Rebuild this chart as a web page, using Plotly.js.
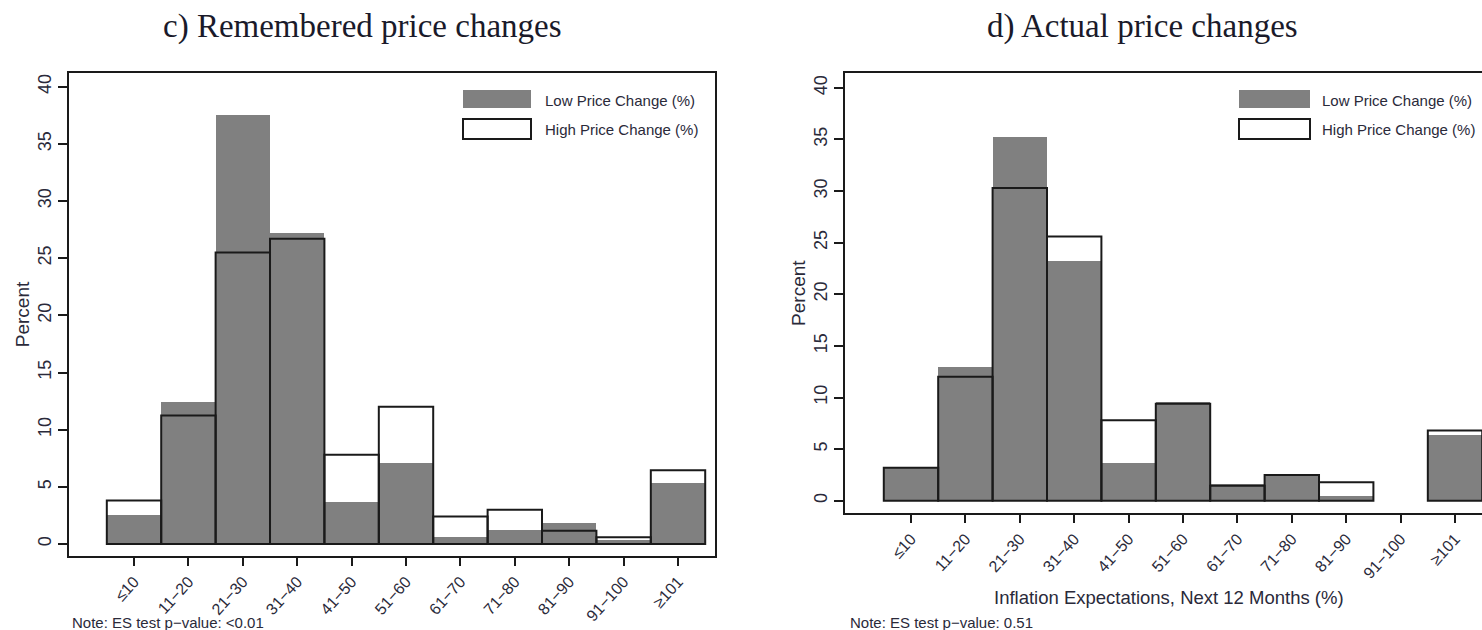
<!DOCTYPE html>
<html>
<head>
<meta charset="utf-8">
<script src="https://cdn.plot.ly/plotly-3.0.1.min.js"></script>
<style>
  html, body { margin: 0; padding: 0; background: #ffffff; }
  #chart { width: 1482px; height: 630px; }
</style>
</head>
<body>
<div id="chart"></div>
<script>
// Inflation-expectation bins (percent, next 12 months)
const categories = ['≤10', '11−20', '21−30', '31−40', '41−50', '51−60', '61−70', '71−80', '81−90', '91−100', '≥101'];

// Panel c) Remembered price changes: share of respondents per bin (%)
const rememberedLow  = [2.5, 12.4, 37.5, 27.2, 3.7, 7.1, 0.6, 1.25, 1.85, 0.35, 5.3];
const rememberedHigh = [3.8, 11.25, 25.5, 26.7, 7.8, 12.0, 2.4, 3.0, 1.15, 0.6, 6.45];

// Panel d) Actual price changes: share of respondents per bin (%)
const actualLow  = [3.2, 13.0, 35.2, 23.2, 3.7, 9.6, 1.65, 2.55, 0.5, 0, 6.4];
const actualHigh = [3.2, 12.0, 30.3, 25.6, 7.8, 9.4, 1.45, 2.5, 1.8, 0, 6.8];

const panelTitles = ['c) Remembered price changes', 'd) Actual price changes'];
const seriesNames = ['Low Price Change (%)', 'High Price Change (%)'];
const notes = ['Note: ES test p−value: <0.01', 'Note: ES test p−value: 0.51'];
const xTitle = 'Inflation Expectations, Next 12 Months (%)';
const yTitle = 'Percent';
const yTicks = [0, 5, 10, 15, 20, 25, 30, 35, 40];

const W = 1482, H = 630;
const px = x => x / W;          // pixel -> paper x
const py = y => 1 - y / H;      // pixel -> paper y

const GRAY = '#808080';
const INK = '#1a1a1a';
const TEXT = '#2a2a3a';
const SANS = 'Liberation Sans, Arial, sans-serif';
const SERIF = 'Liberation Serif, Times New Roman, serif';

// Empty bins are left out rather than drawn as a flat outline
const nonEmpty = vals => vals.map(v => (v === 0 ? null : v));

function lowTrace(vals, xa, ya) {
  return {
    type: 'bar', x: categories, y: nonEmpty(vals), xaxis: xa, yaxis: ya,
    name: seriesNames[0], showlegend: false,
    marker: { color: GRAY, line: { width: 0 } },
    width: 1, hoverinfo: 'x+y'
  };
}
function highTrace(vals, xa, ya) {
  return {
    type: 'bar', x: categories, y: nonEmpty(vals), xaxis: xa, yaxis: ya,
    name: seriesNames[1], showlegend: false,
    marker: { color: 'rgba(0,0,0,0)', line: { width: 2, color: INK } },
    width: 1, hoverinfo: 'x+y'
  };
}

const data = [
  lowTrace(rememberedLow, 'x', 'y'),
  highTrace(rememberedHigh, 'x', 'y'),
  lowTrace(actualLow, 'x2', 'y2'),
  highTrace(actualHigh, 'x2', 'y2')
];

function xAxis(domain, range, mirror) {
  return {
    domain: domain, type: 'category', range: range,
    showline: true, linecolor: INK, linewidth: 2, mirror: mirror,
    ticks: 'outside', ticklen: 8, tickwidth: 2, tickcolor: INK,
    tickangle: -48, tickfont: { family: SANS, size: 16, color: TEXT },
    showgrid: false, zeroline: false, fixedrange: true
  };
}
function yAxis(domain, range, anchor, mirror) {
  return {
    domain: domain, range: range, anchor: anchor,
    tickvals: yTicks, ticktext: yTicks.map(String),
    showline: true, linecolor: INK, linewidth: 2, mirror: mirror,
    ticks: 'outside', ticklen: 9, tickwidth: 2, tickcolor: INK,
    tickangle: -90, tickfont: { family: SANS, size: 18, color: TEXT },
    title: { text: yTitle, font: { family: SANS, size: 19, color: TEXT }, standoff: 0 },
    showgrid: false, zeroline: false, fixedrange: true
  };
}

// Legend boxes drawn as shapes, one set per panel
function legendShapes(x0, x1) {
  return [
    { type: 'rect', xref: 'paper', yref: 'paper', x0: px(x0), x1: px(x1), y0: py(108), y1: py(90),
      fillcolor: GRAY, line: { width: 0 } },
    { type: 'rect', xref: 'paper', yref: 'paper', x0: px(x0), x1: px(x1), y0: py(139), y1: py(119),
      fillcolor: '#ffffff', line: { width: 2, color: INK } }
  ];
}
function legendLabels(xText) {
  return [
    { xref: 'paper', yref: 'paper', x: px(xText), y: py(101), xanchor: 'left', yanchor: 'middle',
      text: seriesNames[0], showarrow: false, font: { family: SANS, size: 15, color: TEXT } },
    { xref: 'paper', yref: 'paper', x: px(xText), y: py(130), xanchor: 'left', yanchor: 'middle',
      text: seriesNames[1], showarrow: false, font: { family: SANS, size: 15, color: TEXT } }
  ];
}

const layout = {
  width: W, height: H,
  margin: { l: 0, r: 0, t: 0, b: 0, pad: 0 },
  paper_bgcolor: '#ffffff', plot_bgcolor: '#ffffff',
  barmode: 'overlay', bargap: 0,
  showlegend: false,
  xaxis: xAxis([px(69), px(715)], [-1.195, 10.68], true),
  yaxis: yAxis([py(556), py(73)], [-1.05, 41.2], 'x', true),
  xaxis2: Object.assign(xAxis([px(845), 1], [-1.213, 10.496], true), { anchor: 'y2' }),
  yaxis2: yAxis([py(513.3), py(73)], [-1.22, 41.44], 'x2', false),
  shapes: [].concat(legendShapes(463, 531), legendShapes(1239, 1310)),
  annotations: [
    { xref: 'paper', yref: 'paper', x: px(362), y: py(27), xanchor: 'center', yanchor: 'middle',
      text: panelTitles[0], showarrow: false, font: { family: SERIF, size: 33, color: '#1a1a2a' } },
    { xref: 'paper', yref: 'paper', x: px(1142), y: py(27), xanchor: 'center', yanchor: 'middle',
      text: panelTitles[1], showarrow: false, font: { family: SERIF, size: 33, color: '#1a1a2a' } },
    { xref: 'paper', yref: 'paper', x: px(1169), y: py(597), xanchor: 'center', yanchor: 'middle',
      text: xTitle, showarrow: false, font: { family: SANS, size: 18.5, color: TEXT } },
    { xref: 'paper', yref: 'paper', x: px(70), y: py(622), xanchor: 'left', yanchor: 'middle',
      text: notes[0], showarrow: false, font: { family: SANS, size: 15, color: TEXT } },
    { xref: 'paper', yref: 'paper', x: px(848), y: py(622), xanchor: 'left', yanchor: 'middle',
      text: notes[1], showarrow: false, font: { family: SANS, size: 15, color: TEXT } }
  ].concat(legendLabels(543), legendLabels(1320))
};

Plotly.newPlot('chart', data, layout, { displayModeBar: false, staticPlot: true });
</script>
</body>
</html>
